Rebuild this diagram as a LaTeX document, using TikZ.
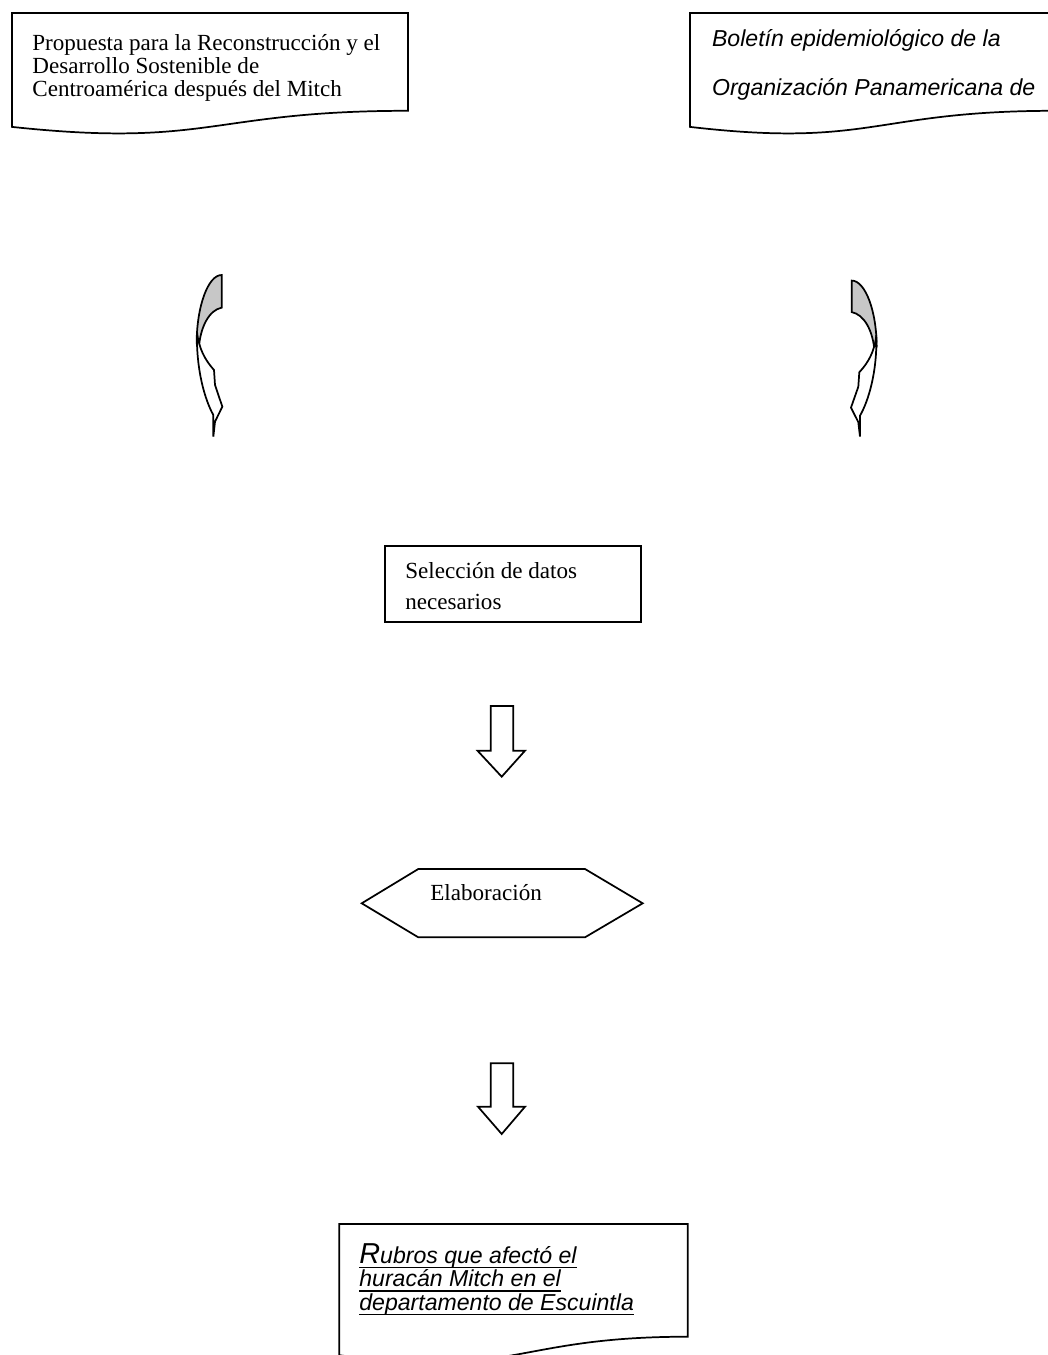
\documentclass[tikz,border=0pt]{standalone}
\usepackage{fontspec}
\setmainfont{Liberation Serif}
\setsansfont{Liberation Sans}

% underline drawn at a fixed depth below the baseline
\newsavebox{\ulinebox}
\newcommand{\ulined}[1]{\sbox{\ulinebox}{#1}%
  \rlap{\rule[-2.6pt]{\wd\ulinebox}{0.75pt}}\usebox{\ulinebox}}

% bent block arrow: grey back face on top, white front band ending in a head
\newcommand{\bentarrow}{%
  \filldraw[shapeline, fill=black!22]
    (125,45) .. controls (84,45) and (50,140) .. (50,250)
    -- (56,270) .. controls (60,200) and (88,150) .. (125,143) -- cycle;
  \filldraw[shapeline, fill=white]
    (51,215) .. controls (48,330) and (75,420) .. (100,465)
    -- (100,530) -- (105,485) -- (127,440) -- (105,375) -- (102,330)
    .. controls (75,300) and (56,265) .. (51,215) -- cycle;
}

\begin{document}
\begin{tikzpicture}[x=0.52pt, y=-0.52pt,
  shapeline/.style={draw=black, line width=0.9pt, line join=miter},
  serif/.style={font=\fontsize{12}{12.2}\selectfont, inner sep=0pt,
                anchor=base west, align=left},
  sansit/.style={font=\sffamily\itshape\fontsize{12}{12.1}\selectfont,
                 inner sep=0pt, anchor=base west, align=left}]
\useasboundingbox (0,0) rectangle (1047,1355);

% source documents (text nodes are placed by the baseline of their last line)
\draw[shapeline] (12,13) -- (408,13) -- (408,110.8)
  .. controls (210,110.8) and (210,148.1) .. (12,126.9) -- cycle;
\node[serif] (src1) at (32,97)
  {Propuesta para la Reconstrucción y el\\Desarrollo Sostenible de\\Centroamérica después del Mitch};

\draw[shapeline] (690,13) -- (1055,13) -- (1055,110.8)
  .. controls (872.5,110.8) and (872.5,148.1) .. (690,126.9) -- cycle;
\node[sansit, font=\sffamily\itshape\fontsize{12}{25.5}\selectfont] (src2) at (711.7,96)
  {Boletín epidemiológico de la\\Organización Panamericana de};

% bent arrows below the sources
\begin{scope}[shift={(180,260)}, xscale=1/3, yscale=1/3]
  \bentarrow
\end{scope}
\begin{scope}[shift={(893.3,266.1)}, xscale=-1/3, yscale=0.3217]
  \bentarrow
\end{scope}

% selection step
\draw[shapeline] (385,546) rectangle (641,621.7);
\node[serif, font=\fontsize{12}{16}\selectfont] (sel) at (405,609)
  {Selección de datos\\necesarios};

% first down arrow
\draw[shapeline] (490.7,706) -- (513.3,706) -- (513.3,750.7) -- (525,750.7)
  -- (501.7,776.7) -- (477.5,750.7) -- (490.7,750.7) -- cycle;

% processing step
\draw[shapeline] (361.7,903.3) -- (418.3,869) -- (585,869) -- (642.7,903.3)
  -- (585,937.3) -- (418.3,937.3) -- cycle;
\node[serif] (elab) at (430,900) {Elaboración};

% second down arrow
\draw[shapeline] (490.7,1063.3) -- (513.3,1063.3) -- (513.3,1106.7) -- (525,1106.7)
  -- (501.7,1134) -- (478,1106.7) -- (490.7,1106.7) -- cycle;

% resulting document
\draw[shapeline] (339.3,1224) -- (687.7,1224) -- (687.7,1336.7)
  .. controls (513.5,1336.7) and (513.5,1379.6) .. (339.3,1355.2) -- cycle;
\node[sansit] (res) at (359,1310)
  {\ulined{{\fontsize{15}{12.1}\selectfont R}ubros que afectó el}\\
   \ulined{huracán Mitch en el}\\
   \ulined{departamento de Escuintla}};
\end{tikzpicture}
\end{document}
